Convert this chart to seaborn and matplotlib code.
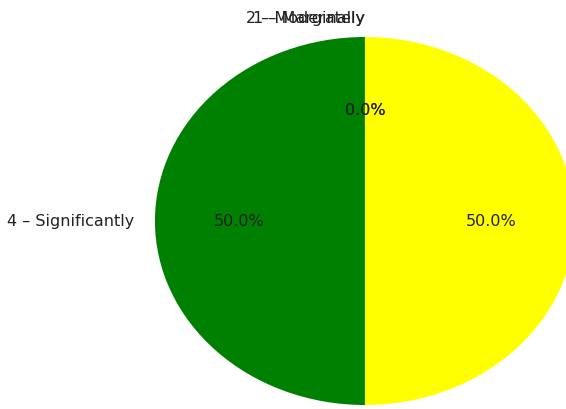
import seaborn as sns
import numpy as np
import pandas as pd
import matplotlib.pyplot as plt

sns.set_style("white")
plt.rcParams["font.family"] = ["DejaVu Sans"]

# answers and counts, in pie order (counter-clockwise from the top)
answers = ["4 – Significantly", "3 – Considerably", "1 – Marginally", "2 – Moderately"]
counts = [1, 1, 0, 0]
colors = ["green", "yellow", "red", "orange"]

df = pd.DataFrame({"answer": answers, "count": counts})

fig = plt.figure(figsize=(5.66, 4.09), dpi=100)
ax = fig.add_axes([0.181, -0.1027, 0.9276, 1.1247])
ax.pie(df["count"], labels=df["answer"], colors=colors, autopct="%1.1f%%",
       startangle=90, wedgeprops={"linewidth": 0},
       textprops={"fontsize": 11.5, "color": "#222222"})
ax.set_aspect("auto")
ax.set_xlim(-1.25, 1.25)
ax.set_ylim(-1.25, 1.25)

fig.savefig("out.png", dpi=100)
